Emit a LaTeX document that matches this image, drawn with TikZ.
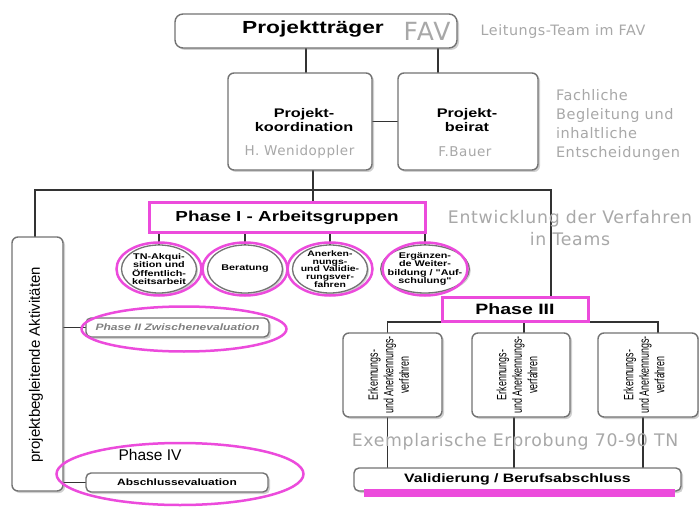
\documentclass[tikz,border=0pt]{standalone}
\usepackage{fontspec}
\setmainfont{Liberation Sans}
\newfontfamily\boxfont[FakeStretch=1.3]{Liberation Sans}
\newfontfamily\narrowfont[FakeStretch=0.66]{Liberation Sans}
\newfontfamily\notefont[LetterSpace=4]{DejaVu Sans}
\definecolor{pinkline}{HTML}{EC4BDC}
\definecolor{notegray}{HTML}{A8A8A8}
\definecolor{linegray}{HTML}{333333}
\usepackage{tikz}
\usetikzlibrary{shapes.geometric, shadows, backgrounds, calc}
\newcommand{\drop}[2]
{
	\draw[conn] (#1) -- (#1 |- #2)
}

\begin{document}
\begin{tikzpicture}[x=1pt, y=-1pt,
	every node/.append style={inner sep=0pt, outer sep=0pt},
	box/.style={draw=black!55, line width=1.4pt, rounded corners=6pt, fill=white,
		drop shadow={shadow xshift=2pt, shadow yshift=-2pt, opacity=0.3, fill=black!60}},
	pinkbox/.style={draw=pinkline, line width=3pt, fill=white},
	ring/.style={draw=pinkline, line width=2.5pt, shape=ellipse},
	circ/.style={shape=ellipse, draw=black!55, line width=1.3pt, fill=white, inner xsep=-6pt, inner ysep=-8pt,
		drop shadow={shadow xshift=1.5pt, shadow yshift=-1.5pt, opacity=0.3, fill=black!60},
		minimum width=75pt, minimum height=48pt, align=center,
		font=\boxfont\bfseries\fontsize{8.3}{8.4}\selectfont},
	conn/.style={draw=linegray, line width=1.2pt},
	remark/.style={text=notegray, align=center}]

	\useasboundingbox (0,0) rectangle (699,508);
\begin{pgfonlayer}{background}
	\fill[white] (0,0) rectangle (699,508);
\end{pgfonlayer}

	\node[box, rounded corners=8pt, minimum width=282pt, minimum height=34pt] (traeger) at (316,31) {};
	\node[font=\boxfont\bfseries\fontsize{17.5}{20}\selectfont] (traegerlbl) at (313,29) {Projektträger};
	\node[remark, font=\notefont\fontsize{25}{28}\selectfont] (fav) at (427,31) {FAV};
	\node[remark, font=\notefont\fontsize{14.3}{17}\selectfont] (leitung) at (563,32) {Leitungs-Team im FAV};

	\node[box, minimum width=144pt, minimum height=97pt] (koord) at (300,121.5) {};
	\node[align=center, font=\boxfont\bfseries\fontsize{12.5}{14}\selectfont] (koordlbl) at (304,120) {Projekt-\\koordination};
	\node[remark, font=\notefont\fontsize{13.5}{16}\selectfont] (wenid) at (299.5,152) {H. Wenidoppler};
	\node[box, minimum width=140pt, minimum height=97pt] (beirat) at (468,121.5) {};
	\node[align=center, font=\boxfont\bfseries\fontsize{12.5}{14}\selectfont] (beiratlbl) at (467,120) {Projekt-\\beirat};
	\node[remark, font=\notefont\fontsize{13.5}{16}\selectfont] (bauer) at (465,152) {F.Bauer};
	\node[remark, align=left, anchor=west, font=\notefont\fontsize{14.5}{19}\selectfont] (fachlich) at (556,124.5) {Fachliche\\Begleitung und\\inhaltliche\\Entscheidungen};

	\node[pinkbox, minimum width=276pt, minimum height=30pt, font=\boxfont\bfseries\fontsize{14.5}{16}\selectfont] (phase1) at (287,217.5) {Phase I - Arbeitsgruppen};
	\node[remark, font=\notefont\fontsize{17.3}{22}\selectfont] (entwicklung) at (570,228) {Entwicklung der Verfahren\\in Teams};

	\node[circ] (akquise) at (159,269) {TN-Akqui-\\sition und\\Öffentlich-\\keitsarbeit};
	\node[circ] (beratung) at (245,269) {Beratung};
	\node[circ, font=\boxfont\bfseries\fontsize{8}{7.6}\selectfont] (anerk) at (330,269) {Anerken-\\nungs-\\und Validie-\\rungsver-\\fahren};
	\node[circ] (ergaenz) at (425,269) {Ergänzen-\\de Weiter-\\bildung / "Auf-\\schulung"};
	\foreach \c in {akquise, beratung, anerk, ergaenz}
		\node[ring, minimum width=85pt, minimum height=53pt] (\c ring) at (\c) {};

	\node[box, minimum width=51pt, minimum height=254pt] (aktiv) at (37.5,364) {};
	\node[rotate=90, font=\fontsize{15}{17}\selectfont] (aktivlbl) at (36,365) {projektbegleitende Aktivitäten};

	\node[box, rounded corners=5pt, minimum width=183pt, minimum height=19pt, text=black!50,
		font=\boxfont\bfseries\itshape\fontsize{9.3}{10}\selectfont] (phase2) at (177.5,327.5) {Phase II Zwischenevaluation};
	\node[ring, minimum width=205pt, minimum height=45pt] (phase2ring) at (184,329) {};

	\node[font=\fontsize{15.5}{17}\selectfont] (phase4) at (150,455) {Phase IV};
	\node[box, rounded corners=5pt, minimum width=182pt, minimum height=19pt,
		font=\boxfont\bfseries\fontsize{9.2}{10}\selectfont] (abschluss) at (177,482.5) {Abschlussevaluation};
	\node[ring, minimum width=247pt, minimum height=62pt] (phase4ring) at (180,474) {};

	\node[pinkbox, minimum width=146pt, minimum height=24pt, font=\boxfont\bfseries\fontsize{15}{16}\selectfont] (phase3) at (515,309) {Phase III};
	\node[box, minimum width=99pt, minimum height=84pt] (verf1) at (392.5,375) {};
	\node[box, minimum width=98pt, minimum height=84pt] (verf2) at (521,375) {};
	\node[box, minimum width=100pt, minimum height=84pt] (verf3) at (648,375) {};
	\foreach \v in {verf1, verf2, verf3}
		\node[rotate=90, align=center, font=\narrowfont\fontsize{13.5}{15.5}\selectfont] (\v lbl) at ([xshift=-4pt]\v) {Erkennungs-\\und Anerkennungs-\\verfahren};

	\node[remark, font=\notefont\fontsize{17.3}{20}\selectfont] (erprobung) at (515,442) {Exemplarische Erprobung 70-90 TN};
	\node[box, rounded corners=5pt, minimum width=327pt, minimum height=23pt,
		font=\boxfont\bfseries\fontsize{12.2}{14}\selectfont] (valid) at (517.5,479.5) {Validierung / Berufsabschluss};
	\draw[pinkline, line width=8pt] ([xshift=10pt, yshift=-2pt]valid.south west) -- ([xshift=-6pt, yshift=-2pt]valid.south east);

\begin{pgfonlayer}{background}
	\coordinate (bus) at (313,190);
	\drop{[xshift=-10pt]traeger.south}{koord.north};
	\drop{[xshift=122pt]traeger.south}{beirat.north};
	\draw[conn] (koord.east) -- (beirat.west);
	\drop{[xshift=13pt]koord.south}{phase1.north};
	\draw[conn] ([xshift=-2.5pt]aktiv.north) |- (bus) -| ([xshift=36pt]phase3.north);
	\drop{akquise.north}{phase1.south};
	\drop{beratung.north}{phase1.south};
	\drop{anerk.north}{phase1.south};
	\drop{ergaenz.north}{phase1.south};
	\draw[conn] (aktiv.east |- phase2.west) -- (phase2.west);
	\draw[conn] (aktiv.east |- abschluss.west) -- (abschluss.west);
	\draw[conn] ([yshift=-1pt]phase3.south) -| ([xshift=-5pt]verf1.north);
	\draw[conn] ([yshift=-1pt]phase3.south) -| ([xshift=3pt]verf2.north);
	\draw[conn] ([yshift=-1pt]phase3.south) -| ([xshift=10pt]verf3.north);
	\drop{[xshift=-5pt]verf1.south}{valid.north};
	\drop{[xshift=-7pt]verf2.south}{valid.north};
	\drop{[xshift=-5pt]verf3.south}{valid.north};
\end{pgfonlayer}
\end{tikzpicture}
\end{document}
